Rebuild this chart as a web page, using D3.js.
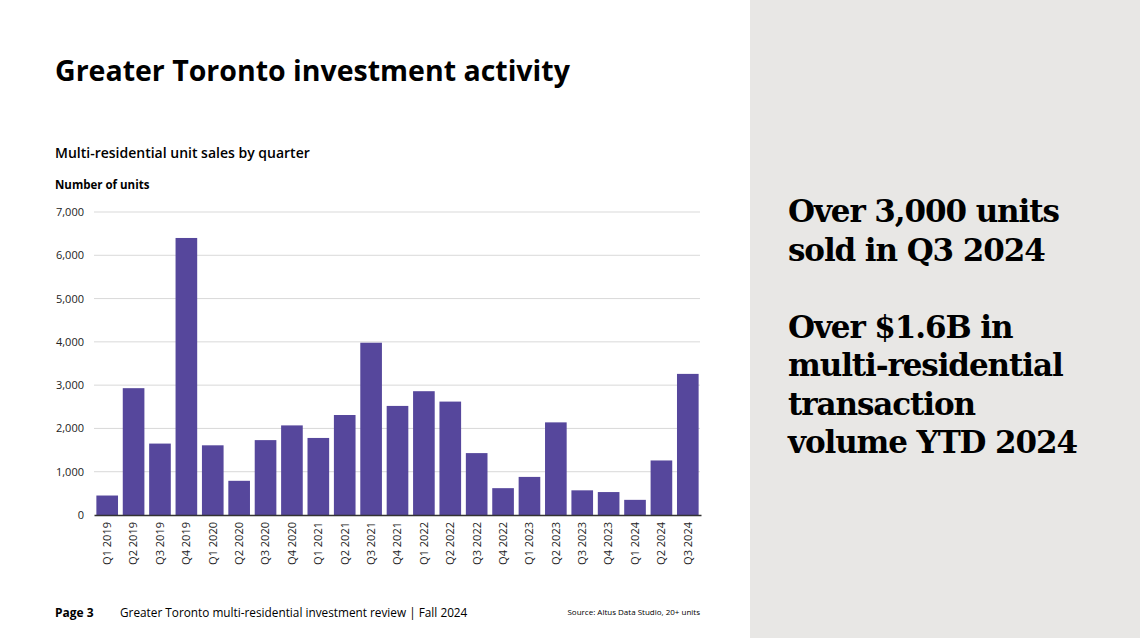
<!DOCTYPE html>
<html><head><meta charset="utf-8">
<script src="https://cdn.jsdelivr.net/npm/d3@7"></script>
<style>body{margin:0;background:#fff}svg{display:block}</style>
</head><body>
<svg id="c" width="1140" height="638"></svg>
<script>
var quarters = ["Q1 2019","Q2 2019","Q3 2019","Q4 2019","Q1 2020","Q2 2020","Q3 2020","Q4 2020",
  "Q1 2021","Q2 2021","Q3 2021","Q4 2021","Q1 2022","Q2 2022","Q3 2022","Q4 2022",
  "Q1 2023","Q2 2023","Q3 2023","Q4 2023","Q1 2024","Q2 2024","Q3 2024"];
var units = [450,2930,1650,6400,1610,790,1730,2070,1780,2310,3980,2520,2860,2620,1430,620,880,2140,570,530,350,1260,3260];
var yTicks = [0,1000,2000,3000,4000,5000,6000,7000];
var callout = ["Over 3,000 units","sold in Q3 2024","","Over $1.6B in","multi-residential","transaction","volume YTD 2024"];

var svg = d3.select("#c");
var font = "'Open Sans', sans-serif";

svg.append("rect").attr("x",750).attr("y",0).attr("width",390).attr("height",638).attr("fill","#e8e7e5");

svg.append("text").attr("x",55).attr("y",81).attr("font-family",font).attr("font-weight",700)
  .attr("font-size",28.5).attr("fill","#000").text("Greater Toronto investment activity");
svg.append("text").attr("x",55).attr("y",158).attr("font-family",font).attr("font-weight",600)
  .attr("font-size",14).text("Multi-residential unit sales by quarter");
svg.append("text").attr("x",55).attr("y",189).attr("font-family",font).attr("font-weight",700)
  .attr("font-size",11.5).text("Number of units");

var x = d3.scaleBand().domain(quarters).range([94,701]).paddingInner(0.18).paddingOuter(0.09);
var y = d3.scaleLinear().domain([0,7000]).range([515,212]);

var g = svg.append("g");
g.selectAll(".grid").data(yTicks.slice(1)).join("line")
  .attr("x1",94).attr("x2",700).attr("y1",d=>y(d)).attr("y2",d=>y(d))
  .attr("stroke","#d9d9d9").attr("stroke-width",1);

g.selectAll(".bar").data(units).join("rect")
  .attr("x",(d,i)=>x(quarters[i])).attr("width",x.bandwidth())
  .attr("y",d=>y(d)).attr("height",d=>y(0)-y(d)).attr("fill","#56479c");

var ya = g.append("g").attr("transform","translate(94,0)")
  .call(d3.axisLeft(y).tickValues(yTicks).tickSize(0).tickPadding(10).tickFormat(d3.format(",")));
ya.select(".domain").remove();
ya.selectAll("text").attr("font-family",font).attr("font-size",11).attr("fill","#222");

var xa = g.append("g").attr("transform","translate(0,515)")
  .call(d3.axisBottom(x).tickSize(0).tickPadding(0));
xa.select(".domain").attr("stroke","#333").attr("stroke-width",1.5);
xa.selectAll("text").attr("font-family",font).attr("font-size",11).attr("fill","#222")
  .attr("text-anchor","end").attr("dy","0.35em")
  .attr("transform","translate(0,7) rotate(-90)");

svg.append("text").attr("x",788).selectAll("tspan").data(callout).join("tspan")
  .attr("x",788).attr("y",(d,i)=>222+i*38.5)
  .attr("font-family","'DejaVu Serif', serif").attr("font-weight",700)
  .attr("font-size",31).attr("letter-spacing",-1.1).attr("fill","#000").text(d=>d);

svg.append("text").attr("x",55).attr("y",617).attr("font-family",font).attr("font-weight",700)
  .attr("font-size",12).text("Page 3");
svg.append("text").attr("x",120).attr("y",617).attr("font-family",font)
  .attr("font-size",11.8).text("Greater Toronto multi-residential investment review | Fall 2024");
svg.append("text").attr("x",700).attr("y",615).attr("text-anchor","end").attr("font-family",font)
  .attr("font-size",8).text("Source: Altus Data Studio, 20+ units");
</script>
</body></html>
